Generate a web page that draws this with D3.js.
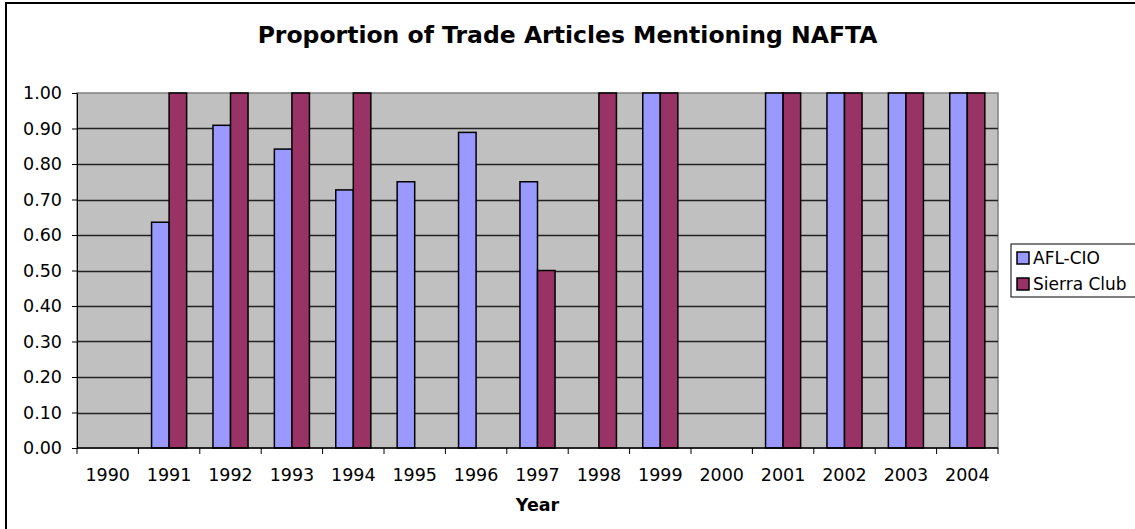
<!DOCTYPE html>
<html>
<head>
<meta charset="utf-8">
<script src="https://cdn.jsdelivr.net/npm/d3@7"></script>
<style>
  body { margin: 0; background: #fff; }
  svg { display: block; font-family: Verdana, "DejaVu Sans", sans-serif; }
</style>
</head>
<body>
<div id="chart"></div>
<script>
// data
const years = ["1990", "1991", "1992", "1993", "1994", "1995", "1996", "1997",
               "1998", "1999", "2000", "2001", "2002", "2003", "2004"];
const aflCio = [0, 0.636, 0.909, 0.842, 0.727, 0.75, 0.889, 0.75, 0, 1, 0, 1, 1, 1, 1];
const sierraClub = [0, 1, 1, 1, 1, 0, 0, 0.5, 1, 1, 0, 1, 1, 1, 1];
const seriesNames = ["AFL-CIO", "Sierra Club"];
const yTicks = [0, 0.1, 0.2, 0.3, 0.4, 0.5, 0.6, 0.7, 0.8, 0.9, 1.0];

const W = 1135, H = 529;
const margin = { top: 93, right: 137, bottom: 81, left: 77 },
    width = W - margin.left - margin.right,
    height = H - margin.top - margin.bottom;

const svg_root = d3.select("#chart")
    .append("svg")
    .attr("width", W)
    .attr("height", H);

// outer chart frame (runs off the bottom/right edge)
svg_root.append("rect")
    .attr("x", 6).attr("y", 3)
    .attr("width", 1300).attr("height", 700)
    .attr("fill", "#fff")
    .attr("stroke", "#000")
    .attr("stroke-width", 2);

svg_root.append("text")
    .attr("x", W / 2)
    .attr("y", 43)
    .attr("text-anchor", "middle")
    .attr("font-size", "23.5px")
    .attr("font-weight", "bold")
    .text("Proportion of Trade Articles Mentioning NAFTA");

const svg = svg_root.append("g")
    .attr("transform", `translate(${margin.left},${margin.top})`);

const x = d3.scaleBand()
    .domain(years)
    .range([0, width]);

// Excel style: gap width 150% -> two bars take 2/3.5 of the band
const xSub = d3.scaleBand()
    .domain(seriesNames)
    .range([x.bandwidth() * 0.75 / 3.5, x.bandwidth() * (1 - 0.75 / 3.5)]);

const y = d3.scaleLinear()
    .domain([0, 1])
    .range([height, 0]);

const color = d3.scaleOrdinal()
    .domain(seriesNames)
    .range(["#9999FF", "#993366"]);

// plot area
svg.append("rect")
    .attr("width", width)
    .attr("height", height)
    .attr("fill", "#C0C0C0")
    .attr("stroke", "#808080")
    .attr("stroke-width", 1.5);

// gridlines
svg.append("g")
    .selectAll("line")
    .data(yTicks.filter(d => d > 0 && d < 1))
    .join("line")
    .attr("x1", 0).attr("x2", width)
    .attr("y1", d => Math.round(y(d)) + 0.5)
    .attr("y2", d => Math.round(y(d)) + 0.5)
    .attr("stroke", "#222")
    .attr("stroke-width", 1.3);

// bars
const rows = years.map((yr, i) => ({ year: yr, values: [
    { key: seriesNames[0], value: aflCio[i] },
    { key: seriesNames[1], value: sierraClub[i] }] }));

svg.append("g")
    .selectAll("g")
    .data(rows)
    .join("g")
    .attr("transform", d => `translate(${x(d.year)},0)`)
    .selectAll("rect")
    .data(d => d.values.filter(v => v.value > 0))
    .join("rect")
    .attr("x", d => xSub(d.key))
    .attr("y", d => y(d.value))
    .attr("width", xSub.bandwidth())
    .attr("height", d => height - y(d.value))
    .attr("fill", d => color(d.key))
    .attr("stroke", "#000")
    .attr("stroke-width", 1.5);

// y axis
const yAxis = svg.append("g")
    .call(d3.axisLeft(y)
        .tickValues(yTicks)
        .tickFormat(d3.format(".2f"))
        .tickSize(5)
        .tickPadding(10));
yAxis.select(".domain").attr("stroke", "#000");
yAxis.selectAll("text").attr("font-size", "17.5px").attr("fill", "#000")
    .style("font-family", "Verdana, 'DejaVu Sans', sans-serif");

// x axis: ticks at band boundaries, labels centered
const xAxis = svg.append("g")
    .attr("transform", `translate(0,${height})`);
xAxis.append("line")
    .attr("x1", 0).attr("x2", width)
    .attr("stroke", "#000").attr("stroke-width", 1.5);
xAxis.selectAll("line.tk")
    .data(years.concat(["end"]))
    .join("line")
    .attr("class", "tk")
    .attr("x1", (d, i) => i * x.step()).attr("x2", (d, i) => i * x.step())
    .attr("y1", 0).attr("y2", 6)
    .attr("stroke", "#000");
xAxis.selectAll("text")
    .data(years)
    .join("text")
    .attr("x", d => x(d) + x.bandwidth() / 2)
    .attr("y", 33)
    .attr("text-anchor", "middle")
    .attr("font-size", "17.5px")
    .text(d => d);

svg.append("text")
    .attr("x", width / 2)
    .attr("y", height + 63)
    .attr("text-anchor", "middle")
    .attr("font-size", "17.5px")
    .attr("font-weight", "bold")
    .text("Year");

// legend
const legend = svg_root.append("g")
    .attr("transform", "translate(1011,244)");
legend.append("rect")
    .attr("width", 140).attr("height", 53)
    .attr("fill", "#fff")
    .attr("stroke", "#000");
const li = legend.selectAll("g")
    .data(seriesNames)
    .join("g")
    .attr("transform", (d, i) => `translate(6,${14 + i * 26})`);
li.append("rect")
    .attr("y", -6)
    .attr("width", 12).attr("height", 12)
    .attr("fill", d => color(d))
    .attr("stroke", "#000")
    .attr("stroke-width", 1.5);
li.append("text")
    .attr("x", 16)
    .attr("y", 6)
    .attr("font-size", "17px")
    .text(d => d);
</script>
</body>
</html>
